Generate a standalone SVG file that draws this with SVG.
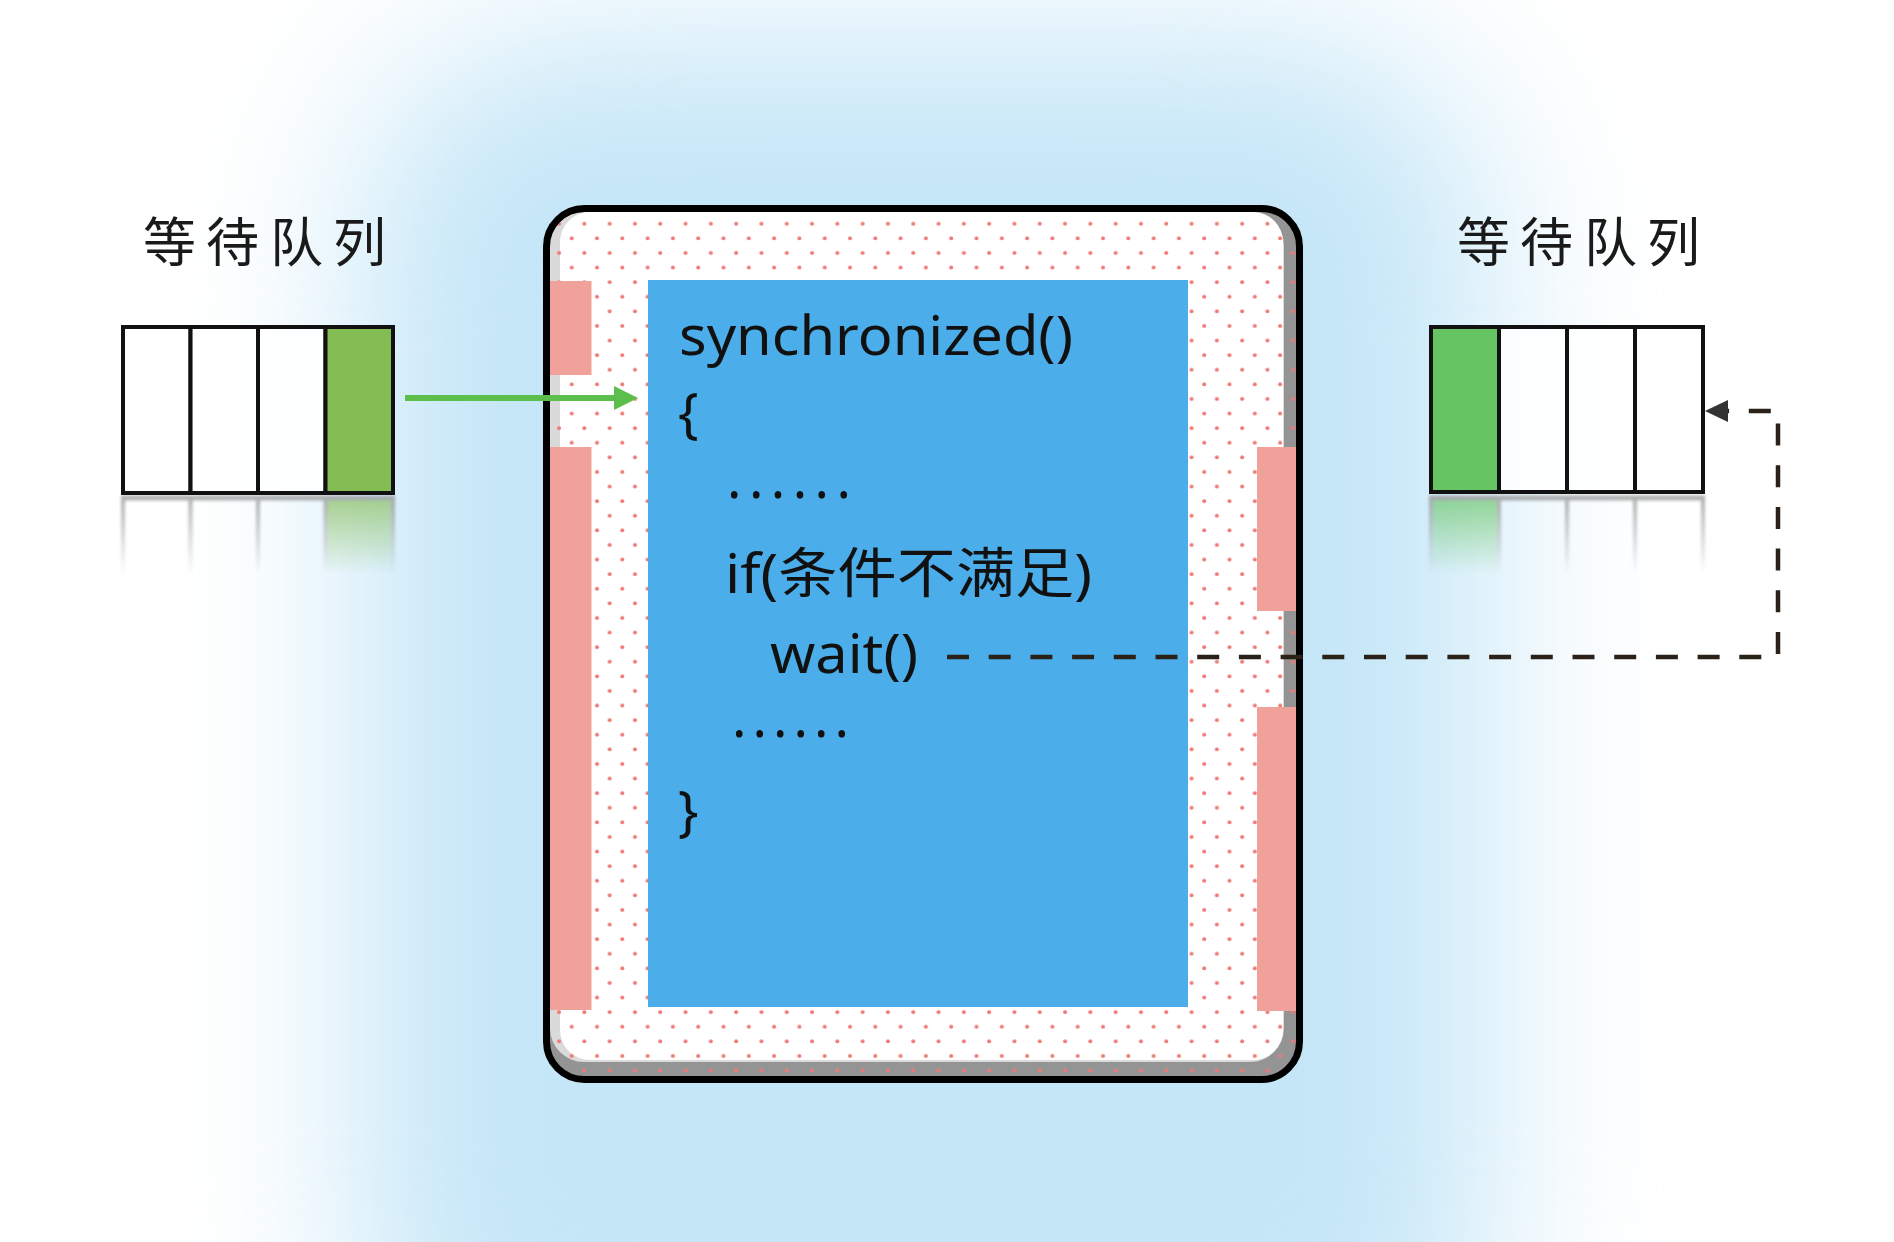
<svg xmlns="http://www.w3.org/2000/svg" width="1894" height="1242" viewBox="0 0 1894 1242">
<style>
.title{font-family:"Noto Sans CJK SC","Noto Sans",sans-serif;font-size:53px;fill:#1a1a1a}
.code{font-family:"Noto Sans","Noto Sans CJK SC",sans-serif;font-size:54px;fill:#111}
.cell{fill:#fff;fill-opacity:0.82;stroke:#111;stroke-width:4}
.pink{fill:#f0a199}
.refl-line{stroke:#888;stroke-width:4}
</style>
<defs>
<filter id="glow" x="-50%" y="-50%" width="200%" height="200%" color-interpolation-filters="sRGB"><feGaussianBlur stdDeviation="90"/></filter>
<filter id="soft" x="-20%" y="-20%" width="140%" height="140%"><feGaussianBlur stdDeviation="1.5"/></filter>
<pattern id="dots" patternUnits="userSpaceOnUse" x="565.7" y="1019.7" width="25.3" height="29.2">
<circle cx="6" cy="7" r="2" fill="#ef7a75"/>
<circle cx="18.65" cy="21.6" r="2" fill="#ef7a75"/>
</pattern>
<linearGradient id="fade" x1="0" y1="0" x2="0" y2="1">
<stop offset="0" stop-color="#fff" stop-opacity="0.7"/>
<stop offset="1" stop-color="#fff" stop-opacity="0"/>
</linearGradient>
<mask id="reflL" maskUnits="userSpaceOnUse" x="100" y="494" width="320" height="80"><rect x="100" y="494" width="320" height="80" fill="url(#fade)"/></mask>
<mask id="reflR" maskUnits="userSpaceOnUse" x="1410" y="494" width="320" height="80"><rect x="1410" y="494" width="320" height="80" fill="url(#fade)"/></mask>
<clipPath id="inner"><rect x="550" y="212" width="747" height="865" rx="34"/></clipPath>
<marker id="arrowG" viewBox="0 0 24 24" refX="14" refY="12" markerWidth="24" markerHeight="24" markerUnits="userSpaceOnUse" orient="auto"><path d="M0,0 L24,12 L0,24 z" fill="#5cbf4b"/></marker>
<marker id="arrowD" viewBox="0 0 23 22" refX="12" refY="11" markerWidth="23" markerHeight="22" markerUnits="userSpaceOnUse" orient="auto"><path d="M0,0 L23,11 L0,22 z" fill="#333"/></marker>
</defs>

<rect x="0" y="0" width="1894" height="1242" fill="#fff"/>
<rect x="360" y="40" width="1125" height="1400" rx="200" fill="#c4e6f7" filter="url(#glow)"/>

<g id="title-left">
<text class="title" x="143 206 270 333" y="262">等待队列</text>
</g>
<g id="title-right">
<text class="title" x="1457 1520 1584 1647" y="262">等待队列</text>
</g>

<g id="queue-left">
<g mask="url(#reflL)" filter="url(#soft)">
<rect x="325.5" y="497" width="67.5" height="80" fill="#84bc54"/>
<line class="refl-line" x1="123" y1="497" x2="123" y2="575"/>
<line class="refl-line" x1="190.5" y1="497" x2="190.5" y2="575"/>
<line class="refl-line" x1="258" y1="497" x2="258" y2="575"/>
<line class="refl-line" x1="325.5" y1="497" x2="325.5" y2="575"/>
<line class="refl-line" x1="393" y1="497" x2="393" y2="575"/>
<line x1="121" y1="498" x2="395" y2="498" stroke="#888" stroke-width="5"/>
</g>
<rect class="cell" x="123" y="327" width="67.5" height="166"/>
<rect class="cell" x="190.5" y="327" width="67.5" height="166"/>
<rect class="cell" x="258" y="327" width="67.5" height="166"/>
<rect class="cell" x="325.5" y="327" width="67.5" height="166" style="fill:#84bc54;fill-opacity:1"/>
</g>

<g id="queue-right">
<g mask="url(#reflR)" filter="url(#soft)">
<rect x="1431" y="497" width="68" height="80" fill="#66c462"/>
<line class="refl-line" x1="1431" y1="497" x2="1431" y2="575"/>
<line class="refl-line" x1="1499" y1="497" x2="1499" y2="575"/>
<line class="refl-line" x1="1567" y1="497" x2="1567" y2="575"/>
<line class="refl-line" x1="1635" y1="497" x2="1635" y2="575"/>
<line class="refl-line" x1="1703" y1="497" x2="1703" y2="575"/>
<line x1="1429" y1="498" x2="1705" y2="498" stroke="#888" stroke-width="5"/>
</g>
<rect class="cell" x="1431" y="327" width="68" height="165" style="fill:#66c462;fill-opacity:1"/>
<rect class="cell" x="1499" y="327" width="68" height="165"/>
<rect class="cell" x="1567" y="327" width="68" height="165"/>
<rect class="cell" x="1635" y="327" width="68" height="165"/>
</g>

<g id="monitor">
<rect x="546.5" y="208.5" width="753" height="871" rx="38" fill="#949494"/>
<rect x="550" y="212" width="734" height="850" rx="34" fill="#dadada"/>
<rect x="560" y="212" width="723" height="848" rx="30" fill="#fff"/>
<rect x="550" y="212" width="747" height="865" fill="url(#dots)" clip-path="url(#inner)"/>
<rect class="pink" x="550" y="281" width="41.5" height="94"/>
<rect class="pink" x="550" y="447" width="41.5" height="563"/>
<rect class="pink" x="1257" y="447" width="42" height="164"/>
<rect class="pink" x="1257" y="707" width="42" height="304"/>
<rect x="546.5" y="208.5" width="753" height="871" rx="38" fill="none" stroke="#000" stroke-width="7"/>
<rect x="648" y="280" width="540" height="727" fill="#4baeea"/>
<text class="code" x="679" y="355" textLength="394" lengthAdjust="spacingAndGlyphs">synchronized()</text>
<text class="code" x="678" y="432">{</text>
<text class="code" x="727" y="498" textLength="124" lengthAdjust="spacing">......</text>
<text class="code" x="725" y="593" textLength="367" lengthAdjust="spacingAndGlyphs">if(条件不满足)</text>
<text class="code" x="770" y="673" textLength="148" lengthAdjust="spacingAndGlyphs">wait()</text>
<text class="code" x="732" y="737" textLength="117" lengthAdjust="spacing">......</text>
<text class="code" x="678" y="830">}</text>
</g>

<g id="connectors">
<path d="M405,398 H628" fill="none" stroke="#5cbf4b" stroke-width="6" marker-end="url(#arrowG)"/>
<path d="M947,657 H1778 V411 H1716" fill="none" stroke="#2a2118" stroke-width="4.5" stroke-dasharray="22 19.7" marker-end="url(#arrowD)"/>
</g>
</svg>
